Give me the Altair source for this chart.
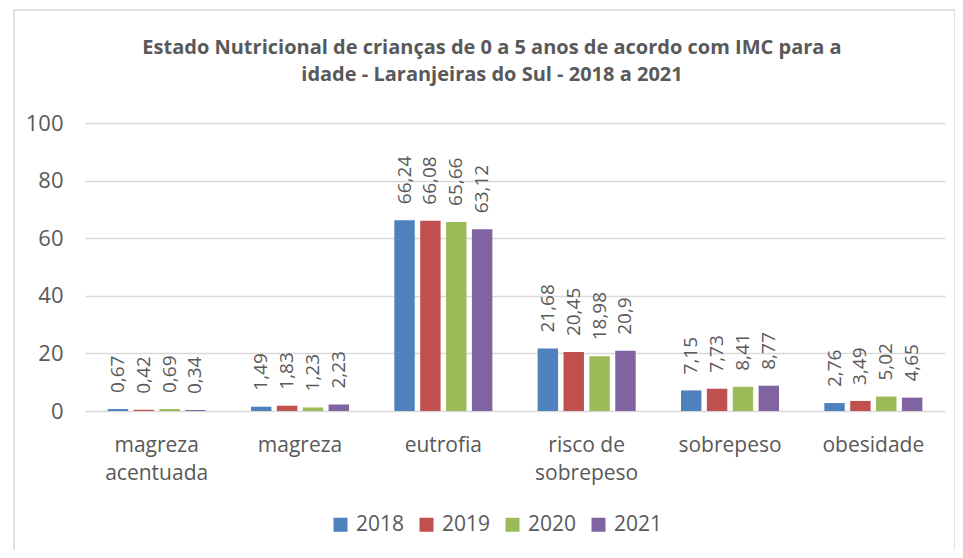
import altair as alt
import pandas as pd

categorias = ["magreza acentuada", "magreza", "eutrofia", "risco de sobrepeso", "sobrepeso", "obesidade"]
anos = ["2018", "2019", "2020", "2021"]
v2018 = [0.67, 1.49, 66.24, 21.68, 7.15, 2.76]
v2019 = [0.42, 1.83, 66.08, 20.45, 7.73, 3.49]
v2020 = [0.69, 1.23, 65.66, 18.98, 8.41, 5.02]
v2021 = [0.34, 2.23, 63.12, 20.9, 8.77, 4.65]
cores = ["#4F81BD", "#C0504D", "#9BBB59", "#8064A2"]

rows = []
for ano, vals in zip(anos, [v2018, v2019, v2020, v2021]):
    for c, v in zip(categorias, vals):
        rows.append({"categoria": c, "ano": ano, "valor": v, "rotulo": str(v).replace(".", ",")})
df = pd.DataFrame(rows)

FONT = "Open Sans"
GREY = "#595959"

x_enc = alt.X("categoria:N", sort=categorias, title=None,
              scale=alt.Scale(paddingInner=0.316, paddingOuter=0.158),
              axis=alt.Axis(labelAngle=0, domain=False, ticks=False, labelPadding=23,
                            labelFontSize=21, labelColor=GREY, labelFont=FONT, labelLineHeight=28,
                            labelExpr="datum.label == 'magreza acentuada' ? ['magreza', 'acentuada'] : datum.label == 'risco de sobrepeso' ? ['risco de', 'sobrepeso'] : datum.label"))
xo_enc = alt.XOffset("ano:N", sort=anos, scale=alt.Scale(paddingInner=0.21, paddingOuter=0))
y_enc = alt.Y("valor:Q", title=None,
              scale=alt.Scale(domain=[0, 100]),
              axis=alt.Axis(values=[0, 20, 40, 60, 80, 100], domain=False, ticks=False,
                            labelPadding=22, labelFontSize=22, labelColor=GREY, labelFont=FONT,
                            gridColor="#d9d9d9", gridWidth=1.5))

base = alt.Chart(df)

bars = base.mark_bar().encode(
    x=x_enc, xOffset=xo_enc, y=y_enc,
    color=alt.Color("ano:N", sort=anos, scale=alt.Scale(domain=anos, range=cores),
                    legend=alt.Legend(title=None, orient="none", direction="horizontal",
                                      legendX=245, legendY=391,
                                      symbolType="square", symbolSize=196, symbolStrokeWidth=0,
                                      labelFontSize=21, labelColor=GREY, labelFont=FONT,
                                      labelOffset=5, columnPadding=11)),
)

labels = base.mark_text(angle=270, align="left", baseline="middle", dx=16,
                        fontSize=19, font=FONT, color=GREY).encode(
    x=alt.X("categoria:N", sort=categorias), xOffset=alt.XOffset("ano:N", sort=anos),
    y="valor:Q", text="rotulo:N"
)

border = alt.Chart(pd.DataFrame({"a": [0]})).mark_rect(
    fill="transparent", stroke="#d9d9d9", strokeWidth=1.5, clip=False
).encode(x=alt.value(-71), x2=alt.value(870), y=alt.value(-113), y2=alt.value(432))

chart = alt.layer(bars, labels, border).properties(
    width=860, height=288,
    padding={"left": 77, "top": 115, "right": 10, "bottom": 139},
    autosize=alt.AutoSizeParams(type="none"),
    title=alt.Title(
        ["Estado Nutricional de crianças de 0 a 5 anos de acordo com IMC para a",
         "idade - Laranjeiras do Sul - 2018 a 2021"],
        font=FONT, fontSize=20, fontWeight="bold", color=GREY, anchor="middle",
        lineHeight=27, offset=-76, dx=-23),
).configure_view(stroke=None)

chart.save("out.html", embed_options={"renderer": "svg", "actions": False})
